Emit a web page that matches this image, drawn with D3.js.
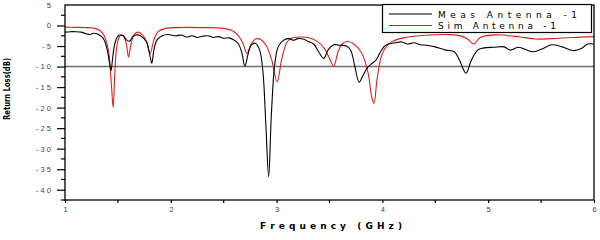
<!DOCTYPE html>
<html>
<head>
<meta charset="utf-8">
<script src="https://cdn.jsdelivr.net/npm/d3@7"></script>
<style>
  body { margin: 0; background: #fff; }
  svg { font-family: "DejaVu Sans", Arial, sans-serif; }
  text { white-space: pre; }
</style>
</head>
<body>
<div id="chart"></div>
<script>

    // measured return loss, [GHz, dB]
    const measData = [
        [1.00, -1.6], [1.05, -1.5], [1.10, -1.5], [1.15, -1.6], [1.20, -2.0], [1.23, -2.2],
        [1.27, -1.9], [1.30, -2.0], [1.34, -2.6], [1.37, -3.5], [1.40, -6], [1.42, -9],
        [1.435, -11], [1.45, -8], [1.47, -4.5], [1.50, -2.6], [1.52, -2.3], [1.55, -2.5],
        [1.58, -3.5], [1.61, -3.8], [1.64, -2.8], [1.67, -2.3], [1.72, -2.6], [1.77, -4],
        [1.80, -7], [1.82, -9.2], [1.84, -6], [1.87, -3.5], [1.92, -2.5], [1.97, -2.2],
        [2.05, -2.5], [2.10, -2.3], [2.15, -2.8], [2.20, -2.5], [2.25, -2.9], [2.30, -2.6],
        [2.35, -2.5], [2.40, -2.9], [2.45, -2.7], [2.50, -3.1], [2.55, -3.0], [2.60, -3.6],
        [2.64, -4.5], [2.67, -6.5], [2.70, -9.9], [2.73, -7], [2.76, -4.8], [2.80, -4.3],
        [2.84, -6], [2.87, -11], [2.90, -25], [2.925, -36.8], [2.95, -22], [2.98, -10],
        [3.01, -5.5], [3.04, -4.2], [3.07, -3.5], [3.12, -3.2], [3.16, -3.6], [3.20, -3.2],
        [3.25, -3.3], [3.30, -3.9], [3.35, -4.5], [3.40, -6.5], [3.445, -8], [3.49, -5.8],
        [3.54, -4.7], [3.60, -4.8], [3.66, -5.0], [3.70, -6], [3.74, -10], [3.78, -13.8],
        [3.82, -12], [3.86, -10.2], [3.90, -9.3], [3.94, -8.4], [3.98, -6.5], [4.02, -5],
        [4.06, -4.5], [4.12, -4.2], [4.18, -4.0], [4.24, -4.5], [4.30, -4.2], [4.36, -4.7],
        [4.42, -4.8], [4.50, -5.2], [4.55, -5.6], [4.60, -6], [4.68, -6.4], [4.73, -8.5],
        [4.79, -11.6], [4.84, -8.5], [4.90, -6], [4.95, -5.5], [5.05, -5.3], [5.15, -5.2],
        [5.21, -6.0], [5.28, -5.3], [5.35, -5.8], [5.42, -6.4], [5.50, -5.8], [5.60, -4.7],
        [5.70, -5.2], [5.80, -6.1], [5.88, -5.6], [5.94, -4.5], [6.00, -4.5]
    ];

    // simulated return loss, [GHz, dB]
    const simData = [
        [1.00, -0.4], [1.10, -0.45], [1.20, -0.5], [1.28, -0.7], [1.33, -1.2], [1.37, -2.5],
        [1.41, -6], [1.44, -15], [1.455, -20], [1.47, -12], [1.49, -5], [1.52, -2.5],
        [1.55, -2.4], [1.58, -4.5], [1.60, -7.7], [1.62, -5], [1.65, -2.3], [1.69, -1.6],
        [1.73, -2.2], [1.77, -3.8], [1.805, -6.8], [1.84, -3.5], [1.88, -1.5], [1.95, -0.7],
        [2.05, -0.5], [2.30, -0.5], [2.50, -0.7], [2.58, -1.2], [2.63, -2.2], [2.68, -4.2],
        [2.72, -6.8], [2.76, -4.5], [2.80, -3.3], [2.85, -3.4], [2.90, -4.8], [2.95, -8],
        [3.005, -13.7], [3.05, -8], [3.10, -4], [3.15, -3.0], [3.25, -2.8], [3.30, -2.9],
        [3.38, -3.8], [3.45, -5.5], [3.50, -8], [3.54, -9.9], [3.58, -6.5], [3.62, -4.5],
        [3.67, -3.9], [3.73, -4.5], [3.80, -6.5], [3.86, -11], [3.90, -17.5], [3.92, -19],
        [3.95, -13], [3.99, -7.5], [4.04, -5], [4.10, -3.8], [4.20, -3.0], [4.30, -2.6],
        [4.45, -2.3], [4.60, -2.2], [4.72, -2.4], [4.80, -3.2], [4.865, -4.5], [4.92, -3.0],
        [5.00, -2.4], [5.12, -2.3], [5.30, -2.8], [5.45, -3.3], [5.60, -3.2], [5.80, -2.9],
        [6.00, -2.7]
    ];

    const xTicks = [1, 2, 3, 4, 5, 6];
    const xMinorTicks = [1.5, 2.5, 3.5, 4.5, 5.5];
    const yTicks = [5, 0, -5, -10, -15, -20, -25, -30, -35, -40];
    const yMinorTicks = [2.5, -2.5, -7.5, -12.5, -17.5, -22.5, -27.5, -32.5, -37.5, -42.5];
    const refLevel = -10;
    const seriesNames = ["Meas Antenna -1", "Sim Antenna -1"];

    const width = 600, height = 240;
    const plotLeft = 65, plotRight = 594, plotTop = 5, plotBottom = 200;

    const svg = d3.select("#chart").append("svg")
        .attr("width", width).attr("height", height);

    const x = d3.scaleLinear().domain([1, 6]).range([plotLeft, plotRight]);
    const y = d3.scaleLinear().domain([-42.5, 5]).range([plotBottom, plotTop]);

    // spaced-out label text like the original plot
    function spaced(s) { return s.split("").join(" "); }

    // -10 dB reference line
    svg.append("line")
        .attr("x1", plotLeft).attr("x2", plotRight)
        .attr("y1", y(refLevel)).attr("y2", y(refLevel))
        .attr("stroke", "#6e6e6e").attr("stroke-width", 1.5);

    const line = d3.line()
        .x(function (d) { return x(d[0]); })
        .y(function (d) { return y(d[1]); })
        .curve(d3.curveCatmullRom.alpha(0.5));

    svg.append("path").datum(simData)
        .attr("d", line).attr("fill", "none")
        .attr("stroke", "#e0201c").attr("stroke-width", 1.1);

    svg.append("path").datum(measData)
        .attr("d", line).attr("fill", "none")
        .attr("stroke", "#000").attr("stroke-width", 1.1);

    // frame
    svg.append("rect")
        .attr("x", plotLeft).attr("y", plotTop)
        .attr("width", plotRight - plotLeft).attr("height", plotBottom - plotTop)
        .attr("fill", "none").attr("stroke", "#000").attr("stroke-width", 1.3);

    // y axis
    const yAxis = svg.append("g").attr("transform", "translate(" + plotLeft + ",0)");
    yAxis.call(d3.axisLeft(y).tickValues(yTicks).tickSize(8).tickPadding(6)
        .tickFormat(function (d) { return spaced(String(d)); }));
    yAxis.selectAll(".tick").filter(function (d) { return d === 5; }).select("line").remove();
    yAxis.select(".domain").remove();
    yAxis.selectAll(".tick line").attr("stroke", "#000").attr("stroke-width", 1.2);
    yAxis.selectAll("text").attr("fill", "#444").attr("font-size", 7.5);
    yAxis.selectAll(".minor").data(yMinorTicks).enter().append("line")
        .attr("class", "minor")
        .attr("x1", -4).attr("x2", 0)
        .attr("y1", function (d) { return y(d); }).attr("y2", function (d) { return y(d); })
        .attr("stroke", "#000").attr("stroke-width", 1.2);

    // x axis
    const xAxis = svg.append("g").attr("transform", "translate(0," + plotBottom + ")");
    xAxis.call(d3.axisBottom(x).tickValues(xTicks).tickSize(3).tickPadding(4)
        .tickFormat(d3.format("d")));
    xAxis.select(".domain").remove();
    xAxis.selectAll(".tick line").attr("stroke", "#000").attr("stroke-width", 1.2);
    xAxis.selectAll("text").attr("fill", "#444").attr("font-size", 7.5);
    xAxis.selectAll(".minor").data(xMinorTicks).enter().append("line")
        .attr("class", "minor")
        .attr("x1", function (d) { return x(d); }).attr("x2", function (d) { return x(d); })
        .attr("y1", 0).attr("y2", 3)
        .attr("stroke", "#000").attr("stroke-width", 1.2);

    // axis titles
    svg.append("text")
        .attr("x", 260).attr("y", 229)
        .attr("font-size", 9).attr("font-weight", "bold")
        .attr("textLength", 142).attr("lengthAdjust", "spacing")
        .text(spaced("Frequency (GHz)"));

    svg.append("text")
        .attr("transform", "translate(10,89) rotate(-90)")
        .attr("text-anchor", "middle")
        .attr("font-size", 8.5).attr("font-weight", "bold")
        .attr("textLength", 62).attr("lengthAdjust", "spacingAndGlyphs")
        .text("Return Loss(dB)");

    // legend
    const legend = svg.append("g");
    legend.append("rect")
        .attr("x", 382.5).attr("y", 4.5).attr("width", 209).attr("height", 28)
        .attr("fill", "#fff").attr("stroke", "#000").attr("stroke-width", 1.2);
    const colors = ["#000", "#e0201c"];
    const legendWidths = [139, 118];
    seriesNames.forEach(function (name, i) {
        const ly = 14 + i * 11.5;
        legend.append("line")
            .attr("x1", 389).attr("x2", 432).attr("y1", ly).attr("y2", ly)
            .attr("stroke", colors[i]).attr("stroke-width", 1.2);
        legend.append("text")
            .attr("x", 438).attr("y", ly + 3.5)
            .attr("font-size", 9)
            .attr("textLength", legendWidths[i]).attr("lengthAdjust", "spacing")
            .text(spaced(name));
    });

</script>
</body>
</html>
